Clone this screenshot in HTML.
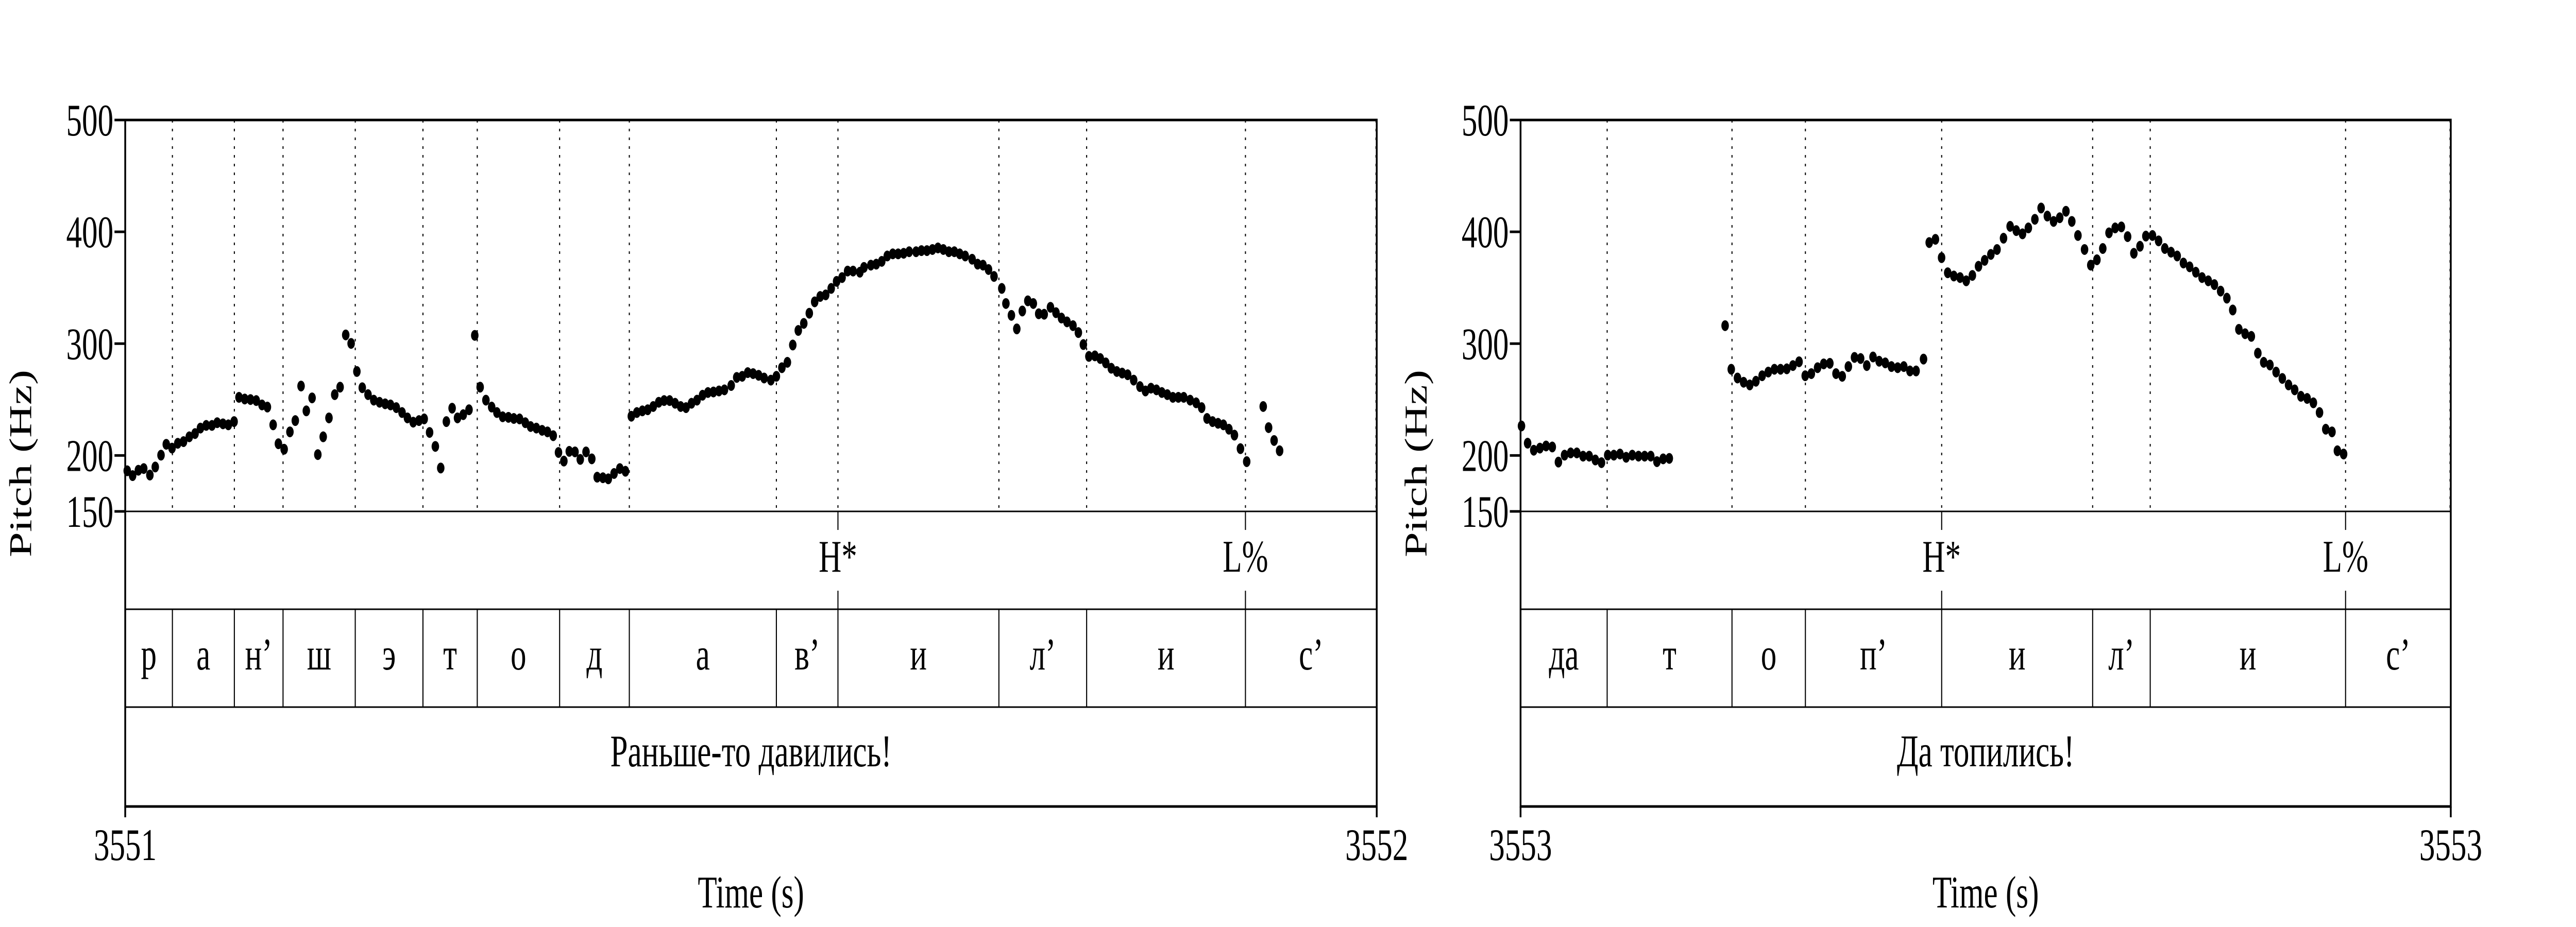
<!DOCTYPE html>
<html><head><meta charset="utf-8"><title>Pitch tracks</title>
<style>
html,body{margin:0;padding:0;background:#fff;width:100%;height:100%;overflow:hidden;}
svg{display:block;width:100vw;height:100vh;font-family:"Liberation Serif","Times New Roman",serif;}
</style></head>
<body>
<svg id="chart" viewBox="0 0 7200 1800" preserveAspectRatio="none" xmlns="http://www.w3.org/2000/svg"></svg>
<script>
// ---------- data (time in ms from panel start, pitch in Hz) ----------
const leftTimes = [1.6,5.9,10.5,14.8,19.7,24.0,28.6,32.8,37.4,42.0,46.6,51.2,55.8,60.1,64.7,69.3,73.5,78.1,82.4,87.0,90.9,95.5,100.1,104.7,109.3,113.6,118.2,122.4,127.0,131.6,135.9,140.5,144.7,149.3,153.9,158.2,162.8,167.4,171.7,176.2,180.5,185.1,189.4,194.0,198.6,203.2,207.7,212.0,216.6,221.2,225.5,230.1,234.7,238.9,243.2,247.8,252.1,256.6,261.2,265.5,270.1,274.7,279.3,283.6,288.2,292.8,297.0,301.6,306.2,310.5,315.1,319.7,323.9,328.5,333.1,337.4,342.0,346.2,350.5,354.8,359.4,363.6,368.2,372.8,377.1,381.7,386.0,390.6,395.2,399.7,
404.4,408.8,413.2,417.5,421.9,426.3,430.6,435.0,439.4,443.8,448.1,452.5,456.9,461.3,465.6,470.0,474.4,478.8,484.2,488.6,493.0,497.4,501.7,506.1,510.5,515.9,520.3,524.7,529.1,533.4,537.8,542.2,546.6,550.9,555.3,559.7,564.1,568.4,572.8,577.2,581.6,587.0,590.3,595.8,600.1,604.5,608.9,613.3,617.6,622.0,626.4,631.9,636.2,640.6,645.0,649.4,653.7,658.1,662.5,666.8,671.2,676.7,681.1,685.4,689.8,694.2,
700.4,703.7,708.1,712.4,716.8,721.2,725.6,729.9,734.3,739.3,743.7,748.1,752.5,757.3,761.6,765.6,770.0,774.8,779.1,783.5,787.9,792.3,796.6,801.0,805.8,810.8,815.2,819.6,824.0,828.3,832.7,837.1,841.5,845.8,850.9,855.7,860.1,864.4,868.8,873.2,877.5,881.9,886.3,891.1,896.1,909.3,913.6,918.0,922.4];
const leftHz = [186.3,182.0,186.8,188.3,182.5,189.7,200.3,210.0,206.6,210.9,212.4,216.7,219.6,224.5,226.9,226.9,229.3,228.3,227.4,230.3,252.0,250.5,250.0,249.1,245.2,243.3,227.4,210.5,205.6,221.1,231.2,262.1,239.9,251.5,200.8,216.7,233.6,254.4,261.1,307.8,300.2,275.1,260.6,254.4,249.5,247.6,246.2,245.2,242.8,238.4,233.6,229.8,231.2,232.7,220.6,208.1,188.8,230.3,242.3,233.6,236.5,240.9,307.4,261.1,249.5,243.3,238.4,234.6,234.1,233.1,232.7,229.3,225.9,224.5,222.5,221.1,217.7,202.7,195.0,203.7,203.2,196.5,203.2,197.0,180.6,180.1,179.1,183.9,188.3,185.9,
235.1,238.4,239.9,240.9,243.8,247.6,249.1,249.1,246.7,243.8,242.8,246.7,249.5,253.9,256.3,256.8,257.7,258.7,262.6,269.8,270.8,274.1,273.2,271.7,269.3,267.4,270.8,278.5,283.3,298.8,311.8,318.1,327.2,337.4,342.2,343.6,349.4,355.7,359.1,364.9,364.9,363.9,368.2,370.2,371.1,373.6,378.4,380.3,380.3,380.8,382.2,382.2,383.2,383.2,384.2,385.6,384.2,382.2,382.2,380.3,378.4,375.5,371.1,370.2,366.3,360.1,
349.4,335.9,325.3,313.2,329.2,338.3,335.9,326.7,326.3,332.5,327.7,322.9,319.5,316.1,309.9,299.2,288.6,289.1,286.7,282.8,278.0,275.1,273.7,272.2,267.4,261.6,257.7,260.2,258.7,256.3,254.4,252.0,252.0,252.0,249.5,247.1,242.8,233.1,230.3,228.8,227.4,223.5,218.2,206.1,194.5,243.8,224.9,213.4,204.2];
const leftBounds = [37.7,87.2,126.1,183.8,237.9,281.3,347.1,402.8,520.3,569.5,698.1,768.2,895.1];
const leftPhones = ["р","а","н’","ш","э","т","о","д","а","в’","и","л’","и","с’"];
const leftTones = [{t:569.5,label:"H*"},{t:895.1,label:"L%"}];
const leftWord = "Раньше-то давились!";
const leftTickLabels = ["3551","3552"];

const rightTimes = [1.0,7.6,14.2,20.8,27.4,34.1,40.7,47.3,53.9,60.5,67.2,73.8,80.4,87.0,93.7,100.3,106.9,113.5,120.1,126.8,133.4,140.0,146.6,153.3,159.9,
219.9,226.5,233.2,239.8,246.4,253.0,259.7,266.3,272.9,279.5,286.2,292.8,299.4,306.0,312.6,319.3,325.9,332.5,339.1,345.8,352.4,359.0,365.6,372.2,378.9,385.5,392.1,398.7,405.4,412.0,418.6,425.2,433.2,
439.3,446.0,452.6,459.2,465.8,472.5,479.1,485.7,492.3,498.9,505.6,512.2,
519.2,526.3,532.9,539.6,545.9,552.9,559.6,566.3,573.0,579.6,586.3,592.6,599.2,606.3,613.0,619.6,625.9,632.6,639.2,645.9,652.6,659.3,665.9,672.2,679.3,685.9,692.6,699.3,705.9,712.6,719.3,725.9,732.6,739.3,745.9,752.6,759.3,765.6,772.2,778.9,785.6,792.6,798.9,805.6,812.2,818.9,825.6,832.2,838.9,845.6,852.3,858.9,865.6,872.3,878.1,884.8];
const rightHz = [226.4,211.0,204.7,206.6,208.5,207.6,194.1,200.3,202.3,202.3,199.4,199.4,196.0,193.6,200.3,200.3,201.3,198.4,200.3,199.4,199.4,199.4,194.5,197.0,197.4,
316.1,277.1,269.3,265.5,263.1,266.4,271.3,274.6,277.1,277.1,277.5,280.4,283.8,271.3,273.2,278.5,281.9,282.4,273.2,270.8,279.5,287.7,286.7,280.4,288.1,284.3,282.8,279.5,278.5,279.5,275.6,275.6,286.2,
390.4,393.3,376.9,363.4,360.5,359.1,356.2,361.0,369.2,374.5,379.8,384.2,
394.3,404.9,401.1,398.2,403.5,411.2,421.3,414.1,409.3,412.6,418.4,409.3,396.7,384.2,370.2,375.0,385.1,399.1,403.5,404.4,395.7,380.8,387.1,396.2,396.7,391.9,385.1,381.8,378.4,372.1,368.7,363.9,359.1,356.2,352.8,347.0,340.7,330.1,312.8,308.9,306.5,291.5,283.3,280.9,274.6,268.9,263.1,258.7,252.9,251.0,247.1,238.4,223.5,221.1,204.2,201.3];
const rightBounds = [93.1,227.3,306.2,452.7,615.0,676.9,886.9];
const rightPhones = ["да","т","о","п’","и","л’","и","с’"];
const rightTones = [{t:452.7,label:"H*"},{t:886.9,label:"L%"}];
const rightWord = "Да топились!";
const rightTickLabels = ["3553","3553"];

const yTicks = [500,400,300,200,150];

// ---------- layout ----------
const NS = "http://www.w3.org/2000/svg";
const svg = document.getElementById("chart");
const TOP = 233, PBOT = 993, T1 = 1183, T2 = 1373, BOT = 1566;
const FS = 88;
function mk(tag, attrs, parent){
  const e = document.createElementNS(NS, tag);
  for (const k in attrs) e.setAttribute(k, attrs[k]);
  (parent || svg).appendChild(e);
  return e;
}
function yScale(f){ return TOP + (500 - f) * (PBOT - TOP) / 350; }

function drawPanel(name, x0, x1, times, hz, bounds, phones, tones, word, tickLabels){
  const g = mk("g", {});
  
  
  const xScale = t => x0 + t * (x1 - x0) / 1000;

  bounds.forEach(b => {
    const l = mk("line", {x1:xScale(b), x2:xScale(b), y1:TOP, y2:PBOT, stroke:"#000", "stroke-width":3, "stroke-dasharray":"5 12"}, g);
    
    
  });
  const rd = mk("line", {x1:x1-2, x2:x1-2, y1:TOP, y2:PBOT, stroke:"#000", "stroke-width":3, "stroke-dasharray":"5 12"}, g);
  
  

  [PBOT, T1, T2].forEach(y => {
    const l = mk("line", {x1:x0, x2:x1, y1:y, y2:y, stroke:"#000", "stroke-width":3}, g);
    
    
  });
  bounds.forEach(b => {
    const l = mk("line", {x1:xScale(b), x2:xScale(b), y1:T1, y2:T2, stroke:"#000", "stroke-width":3}, g);
    
    
  });
  const edges = [0].concat(bounds).concat([1000]);
  phones.forEach((p, i) => {
    const cx = (xScale(edges[i]) + xScale(edges[i+1])) / 2;
    const t = mk("text", {x:cx, y:1300, "font-size":FS, "text-anchor":"middle"}, g);
    t.textContent = p;
    
    
  });
  tones.forEach(tn => {
    const x = xScale(tn.t);
    const a = mk("line", {x1:x, x2:x, y1:PBOT, y2:PBOT+36, stroke:"#000", "stroke-width":3}, g);
    
    
    const b = mk("line", {x1:x, x2:x, y1:T1-36, y2:T1, stroke:"#000", "stroke-width":3}, g);
    
    
    const t = mk("text", {x:x, y:1110, "font-size":FS, "text-anchor":"middle"}, g);
    t.textContent = tn.label;
    
    
  });
  const w = mk("text", {x:(x0+x1)/2, y:1488, "font-size":FS, "text-anchor":"middle"}, g);
  w.textContent = word;
  
  

  times.forEach((t, i) => {
    const c = mk("circle", {cx:xScale(t), cy:yScale(hz[i]), r:10.5, fill:"#000"}, g);
    
    
  });

  const fr = mk("path", {d:`M${x0},${TOP} H${x1} V${BOT} H${x0} Z`, fill:"none", stroke:"#000", "stroke-width":5}, g);
  
  
  const le = mk("line", {x1:x0, x2:x0, y1:BOT, y2:1587, stroke:"#000", "stroke-width":5}, g);
  
  
  const re = mk("line", {x1:x1, x2:x1, y1:BOT, y2:1587, stroke:"#000", "stroke-width":5}, g);
  
  

  yTicks.forEach(v => {
    const y = yScale(v);
    const tk = mk("line", {x1:x0-30, x2:x0, y1:y, y2:y, stroke:"#000", "stroke-width":5}, g);
    
    
    const lb = mk("text", {x:x0-33, y:y+30, "font-size":FS, "text-anchor":"end"}, g);
    lb.textContent = String(v);
    
    
  });
  const yt = mk("text", {x:0, y:0, "font-size":FS, "text-anchor":"middle", transform:`translate(${x0-263},900) rotate(-90)`}, g);
  yt.textContent = "Pitch (Hz)";
  
  
  [x0, x1].forEach((x, i) => {
    const t = mk("text", {x:x, y:1670, "font-size":FS, "text-anchor":"middle"}, g);
    t.textContent = tickLabels[i];
    
    
  });
  const xt = mk("text", {x:(x0+x1)/2, y:1762, "font-size":FS, "text-anchor":"middle"}, g);
  xt.textContent = "Time (s)";
  
  
}

drawPanel("left", 350, 3848, leftTimes, leftHz, leftBounds, leftPhones, leftTones, leftWord, leftTickLabels);
drawPanel("right", 4250, 6850, rightTimes, rightHz, rightBounds, rightPhones, rightTones, rightWord, rightTickLabels);
</script>
</body></html>
